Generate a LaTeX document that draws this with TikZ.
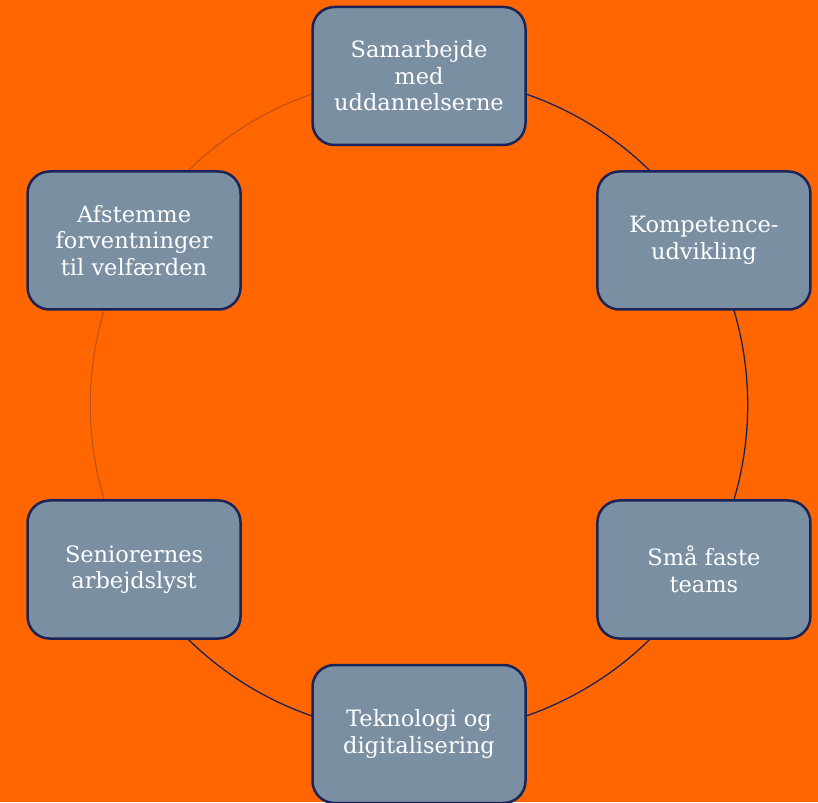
\documentclass[tikz,border=0pt]{standalone}
\usepackage{fontspec}
\setmainfont{DejaVu Serif}
\usepackage{xcolor}
\usetikzlibrary{backgrounds}

\definecolor{bgorange}{HTML}{FF6600}
\definecolor{boxslate}{HTML}{7A8FA1}
\definecolor{navyline}{HTML}{1B2459}
\definecolor{rustline}{HTML}{B8501E}

\begin{document}
\begin{tikzpicture}[x=1pt, y=1pt,
    topic/.style = {draw=navyline, line width=2.5pt, fill=boxslate, rounded corners=22pt,
        minimum width=213pt, minimum height=138pt, inner sep=0pt, align=center,
        text=white, font=\fontsize{22.5}{26.5}\selectfont},
    ring/.style = {draw=navyline, line width=1.3pt, bend left=30, looseness=0.91},
    ringfaint/.style = {ring, draw=rustline, line width=1pt}]
    \useasboundingbox (-419,-397) rectangle (399,405);
    \node (sam) [topic] at (90:329) {Samarbejde\\med\\uddannelserne};
    \node (komp) [topic] at (30:329) {Kompetence-\\udvikling};
    \node (sma) [topic] at (-30:329) {Små faste\\teams};
    \node (tek) [topic] at (-90:329) {Teknologi og\\digitalisering};
    \node (sen) [topic] at (-150:329) {Seniorernes\\arbejdslyst};
    \node (afs) [topic] at (150:329) {Afstemme\\forventninger\\til velfærden};
    \begin{scope}[on background layer]
        \fill [bgorange] (-419,-397) rectangle (399,405);
        \path (sam.center) edge [ring] (komp.center)
            (komp.center) edge [ring] (sma.center)
            (sma.center) edge [ring] (tek.center)
            (tek.center) edge [ring] (sen.center)
            (sen.center) edge [ringfaint] (afs.center)
            (afs.center) edge [ringfaint] (sam.center);
    \end{scope}
\end{tikzpicture}
\end{document}
